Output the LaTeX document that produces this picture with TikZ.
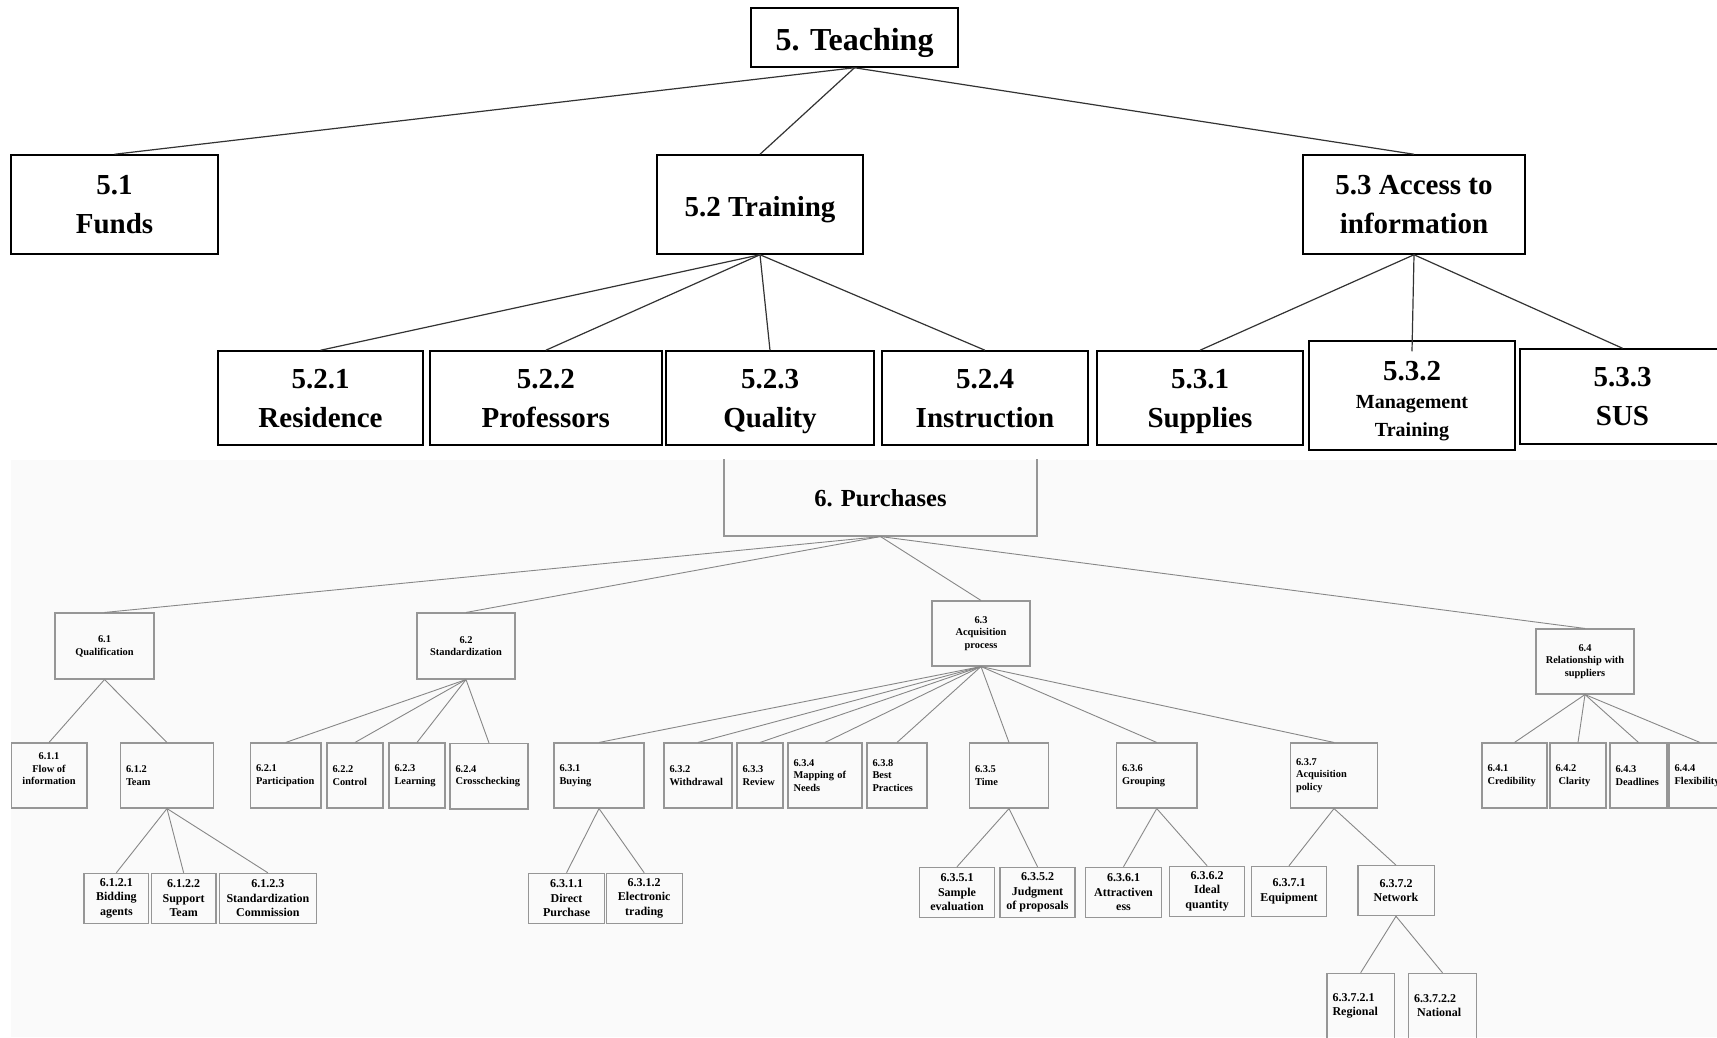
\documentclass[tikz,border=0pt]{standalone}
\usepackage{fontspec}
\setmainfont{Liberation Serif}
\definecolor{boxgrey}{RGB}{150,150,150}
\definecolor{linegrey}{RGB}{135,135,135}
\definecolor{panel}{RGB}{250,250,250}
% a block of centred lines, moved vertically without changing its size
\newcommand\movedlines[2]{\raisebox{#1}[\height][\depth]{\begin{tabular}{@{}c@{}}#2\end{tabular}}}
\begin{document}
\begin{tikzpicture}[x=1pt,y=-1pt,
  topbox/.style 2 args={draw=black, line width=1.5pt, minimum width=#1, minimum height=#2,
    inner sep=0pt, align=center, font=\bfseries\fontsize{29}{39}\selectfont},
  toplink/.style={draw=black!80, line width=1.2pt},
  cbox/.style 2 args={draw=boxgrey, line width=1.1pt, minimum width=#1, minimum height=#2,
    inner sep=0pt, align=center, font=\bfseries\fontsize{10.4}{12.8}\selectfont},
  lbox/.style 2 args={draw=boxgrey, line width=1.1pt, text width=#1, minimum height=#2,
    inner xsep=5.5pt, inner ysep=0pt, align=left, font=\bfseries\fontsize{10.4}{12.8}\selectfont},
  sbox/.style 2 args={draw=boxgrey, line width=1.1pt, minimum width=#1, minimum height=#2,
    inner sep=0pt, align=center, font=\bfseries\fontsize{12}{14.7}\selectfont},
  slbox/.style 2 args={draw=boxgrey, line width=1.1pt, text width=#1, minimum height=#2,
    inner xsep=5.5pt, inner ysep=0pt, align=left, font=\bfseries\fontsize{12}{14}\selectfont},
  link/.style={draw=linegrey, line width=0.9pt}
]
\useasboundingbox (0,0) rectangle (1717,1037);
\clip (0,0) rectangle (1717,1037);
\fill[white] (0,0) rectangle (1717,1037);

% ---------- 5. Teaching ----------
\node[topbox={207pt}{59pt}, font=\bfseries\fontsize{32}{38}\selectfont,
  text height=30pt, text depth=5pt] (teach) at (854.5,37.5) {5. Teaching};
\node[topbox={207pt}{99pt}] (funds)  at (114.5,204.5) {\movedlines{-2pt}{5.1\\Funds}};
\node[topbox={206pt}{99pt}, text height=30pt, text depth=5.6pt] (train) at (760,204.5) {5.2 Training};
\node[topbox={222pt}{99pt}] (access) at (1414,204.5)  {\movedlines{-2pt}{5.3 Access to\\information}};

\node[topbox={205pt}{94pt}] (resid) at (320.5,398)  {\movedlines{-2pt}{5.2.1\\Residence}};
\node[topbox={232pt}{94pt}] (prof)  at (545.8,398)  {\movedlines{-2pt}{5.2.2\\Professors}};
\node[topbox={208pt}{94pt}] (qual)  at (770,398)    {5.2.3\\\smash{Quality}};
\node[topbox={206pt}{94pt}] (instr) at (985,398)    {\movedlines{-2pt}{5.2.4\\Instruction}};
\node[topbox={206pt}{94pt}] (suppl) at (1200,398)   {5.3.1\\\smash{Supplies}};
\node[topbox={206pt}{109pt}, font=\bfseries\fontsize{20}{28}\selectfont] (mgmt) at (1412,395.5)
  {\movedlines{-7.5pt}{{\fontsize{29}{29}\selectfont 5.3.2}\\Management\\\smash{Training}}};
\node[topbox={205pt}{95pt}] (sus)   at (1622.5,396.5) {5.3.3\\SUS};

\draw[toplink] (teach.south) -- (funds.north);
\draw[toplink] (teach.south) -- (train.north);
\draw[toplink] (teach.south) -- (access.north);
\draw[toplink] (train.south) -- (resid.north);
\draw[toplink] (train.south) -- (prof.north);
\draw[toplink] (train.south) -- (qual.north);
\draw[toplink] (train.south) -- (instr.north);
\draw[toplink] (access.south) -- (suppl.north);
\draw[toplink] (access.south) -- ([yshift=-11pt]mgmt.north);
\draw[toplink] (access.south) -- (sus.north);

% ---------- 6. Purchases ----------
\fill[panel] (11,460) rectangle (1717,1037);
\begin{scope}
\clip (11,459) rectangle (1717,1037);

\node[draw=boxgrey, line width=1.1pt, minimum width=313pt, minimum height=84pt,
  text height=30pt, text depth=4.5pt, inner sep=0pt,
  font=\bfseries\fontsize{24.5}{30}\selectfont] (purch) at (880.5,494) {6. Purchases};

\node[cbox={99pt}{66pt}] (q61) at (104.5,646)  {6.1\\Qualification};
\node[cbox={98pt}{66pt}] (q62) at (466,646)    {6.2\\Standardization};
\node[cbox={98pt}{65pt}] (q63) at (981,633.5)  {6.3\\Acquisition\\process};
\node[cbox={98pt}{65pt}] (q64) at (1585,661.5) {6.4\\Relationship with\\suppliers};

\node[cbox={76pt}{65pt}]   (r611) at (49,775.5)     {\movedlines{6pt}{6.1.1\\Flow of\\information}};
\node[lbox={82pt}{65pt}]   (r612) at (167,775.5)    {6.1.2\\Team};
\node[lbox={59.5pt}{65pt}] (r621) at (285.75,775.5) {6.2.1\\Participation};
\node[lbox={45pt}{65pt}]   (r622) at (355,775.5)    {6.2.2\\Control};
\node[lbox={45pt}{65pt}]   (r623) at (417,775.5)    {6.2.3\\Learning};
\node[lbox={67pt}{65.5pt}] (r624) at (489,776.2)    {6.2.4\\Crosschecking};
\node[lbox={79pt}{65pt}]   (r631) at (599,775.5)    {6.3.1\\Buying};
\node[lbox={57pt}{65pt}]   (r632) at (698,775.5)    {6.3.2\\Withdrawal};
\node[lbox={35pt}{65pt}]   (r633) at (760,775.5)    {6.3.3\\Review};
\node[lbox={63pt}{65pt}]   (r634) at (825,775.5)    {6.3.4\\Mapping of\\Needs};
\node[lbox={49pt}{65pt}]   (r638) at (897,775.5)    {6.3.8\\Best\\Practices};
\node[lbox={68pt}{65pt}]   (r635) at (1009,775.5)   {6.3.5\\Time};
\node[lbox={69.5pt}{65pt}] (r636) at (1156.75,775.5) {6.3.6\\Grouping};
\node[lbox={76pt}{65pt}]   (r637) at (1334,775.5)   {6.3.7\\Acquisition\\policy};
\node[lbox={54pt}{65pt}]   (r641) at (1514.5,775.5) {6.4.1\\Credibility};
\node[lbox={45pt}{65pt}]   (r642) at (1578,775.5)   {6.4.2\\\hspace*{3pt}Clarity};
\node[lbox={46pt}{65pt}]   (r643) at (1638.5,775.5) {6.4.3\\Deadlines};
\node[lbox={51pt}{65pt}]   (r644) at (1700,775.5)   {6.4.4\\Flexibility};

\node[sbox={64.7pt}{50pt}] (s1)  at (116.35,898.3) {6.1.2.1\\Bidding\\agents};
\node[sbox={64.7pt}{50pt}] (s2)  at (183.65,898.3) {6.1.2.2\\Support\\Team};
\node[sbox={97.3pt}{50pt}] (s3)  at (267.85,898.3) {6.1.2.3\\Standardization\\Commission};
\node[sbox={75.9pt}{50pt}] (s4)  at (566.55,898.3) {6.3.1.1\\Direct\\Purchase};
\node[sbox={75.9pt}{50pt}] (s5)  at (644.2,898.3)  {6.3.1.2\\Electronic\\trading};
\node[sbox={75.4pt}{50pt}] (s6)  at (957,892.3)    {6.3.5.1\\Sample\\evaluation};
\node[sbox={75pt}{50pt}]   (s7)  at (1037.5,892.3) {6.3.5.2\\Judgment\\of proposals};
\node[sbox={75.4pt}{50pt}] (s8)  at (1123.5,892.3) {6.3.6.1\\Attractiven\\ess};
\node[sbox={75pt}{50pt}]   (s9)  at (1207.1,891.3) {6.3.6.2\\Ideal\\quantity};
\node[sbox={75.8pt}{50pt}] (s10) at (1289,891.3)   {6.3.7.1\\Equipment};
\node[sbox={76.1pt}{50pt}] (s11) at (1396,890.7)   {6.3.7.2\\Network};
\node[slbox={56.3pt}{65pt}] (s12) at (1360.65,1005.8) {6.3.7.2.1\\Regional};
\node[slbox={56.6pt}{65pt}] (s13) at (1442.5,1005.8)  {6.3.7.2.2\\\hspace*{3pt}National};

\foreach \c in {q61,q62,q63,q64} \draw[link] (purch.south) -- (\c.north);
\foreach \c in {r611,r612} \draw[link] (q61.south) -- (\c.north);
\foreach \c in {r621,r622,r623,r624} \draw[link] (q62.south) -- (\c.north);
\foreach \c in {r631,r632,r633,r634,r638,r635,r636,r637} \draw[link] (q63.south) -- (\c.north);
\foreach \c in {r641,r642,r643,r644} \draw[link] (q64.south) -- (\c.north);
\foreach \c in {s1,s2,s3} \draw[link] (r612.south) -- (\c.north);
\foreach \c in {s4,s5} \draw[link] (r631.south) -- (\c.north);
\foreach \c in {s6,s7} \draw[link] (r635.south) -- (\c.north);
\foreach \c in {s8,s9} \draw[link] (r636.south) -- (\c.north);
\foreach \c in {s10,s11} \draw[link] (r637.south) -- (\c.north);
\foreach \c in {s12,s13} \draw[link] (s11.south) -- (\c.north);
\end{scope}
\end{tikzpicture}
\end{document}
